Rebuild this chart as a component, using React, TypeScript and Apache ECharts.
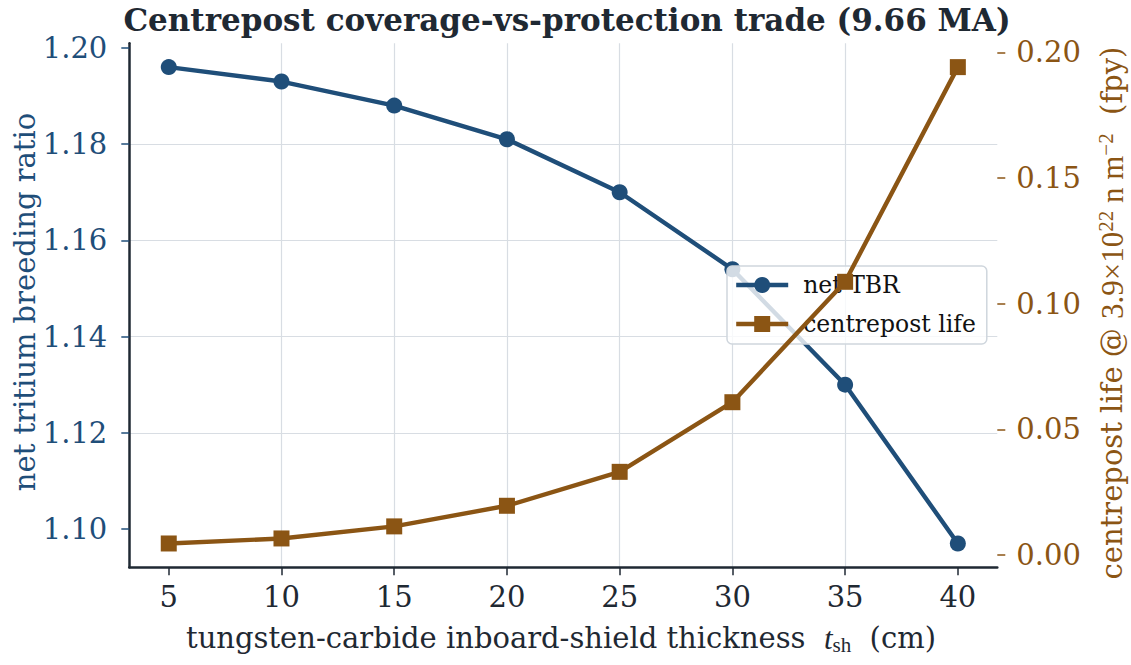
import React, { useEffect, useRef } from "react";
import * as echarts from "echarts";

const thickness = [5, 10, 15, 20, 25, 30, 35, 40];
const netTBR = [1.196, 1.193, 1.188, 1.181, 1.17, 1.154, 1.13, 1.097];
const centrepostLife = [0.0046, 0.0066, 0.0114, 0.0196, 0.0331, 0.0608, 0.1087, 0.1941];
const xTicks = [5, 10, 15, 20, 25, 30, 35, 40];
const leftTicks = [1.1, 1.12, 1.14, 1.16, 1.18, 1.2];
const rightTicks = [0, 0.05, 0.1, 0.15, 0.2];

const BLUE = "#1f4e79";
const BROWN = "#8b5514";
const DARK = "#1f2933";
const GRID = "#d8dde3";
const FONT = "DejaVu Serif";
const MATH = "Liberation Serif";

function padded(vals: number[]) {
  const lo = Math.min(...vals);
  const hi = Math.max(...vals);
  const p = (hi - lo) * 0.05;
  return [lo - p, hi + p];
}

export default function App() {
  const ref = useRef<HTMLDivElement>(null);
  useEffect(() => {
    if (!ref.current) return;
    const chart = echarts.init(ref.current, undefined, { renderer: "svg" });
    const [xmin, xmax] = padded(thickness);
    const [lmin, lmax] = padded(netTBR);
    const [rmin, rmax] = padded(centrepostLife);
    chart.setOption({
      animation: false,
      backgroundColor: "#ffffff",
      title: {
        text: "Centrepost coverage-vs-protection trade (9.66 MA)",
        left: 564,
        textAlign: "center",
        top: 1,
        padding: 3,
        textStyle: { fontFamily: FONT, fontSize: 31, fontWeight: "bold", color: DARK },
      },
      grid: { left: 129.3, right: 133.7, top: 43.3, bottom: 97.7, containLabel: false },
      legend: {
        data: ["net TBR", "centrepost life"],
        orient: "vertical",
        left: 727,
        top: 266,
        z: 3,
        backgroundColor: "rgba(255,255,255,0.8)",
        borderColor: "#cfd6dd",
        borderWidth: 1.5,
        borderRadius: 5,
        padding: [6, 11, 7, 7],
        itemWidth: 52,
        itemHeight: 20,
        itemGap: 13,
        lineStyle: { width: 4.4 },
        textStyle: { fontFamily: FONT, fontSize: 23.5, color: "#111111", lineHeight: 26, padding: [0, 0, 0, 10] },
      },
      xAxis: {
        type: "value",
        min: xmin,
        max: xmax,
        splitNumber: 8,
        axisLine: { show: true, onZero: false, lineStyle: { color: DARK, width: 2.5 } },
        axisTick: { show: true, length: 8, lineStyle: { color: DARK, width: 1.5 }, customValues: xTicks },
        axisLabel: {
          customValues: xTicks,
          fontFamily: FONT,
          fontSize: 29,
          color: DARK,
          margin: 15,
          formatter: (v: number) => String(Math.round(v)),
        },
        splitLine: { show: true, showMinLine: false, showMaxLine: false, lineStyle: { color: GRID, width: 1.2 } },
      },
      yAxis: [
        {
          type: "value",
          position: "left",
          min: lmin,
          max: lmax,
          axisLine: { show: true, onZero: false, lineStyle: { color: DARK, width: 2.5 } },
          axisTick: { show: true, length: 8, lineStyle: { color: BLUE, width: 1.5 }, customValues: leftTicks },
          axisLabel: {
            customValues: leftTicks,
            fontFamily: FONT,
            fontSize: 29,
            color: BLUE,
            margin: 22,
            formatter: (v: number) => v.toFixed(2),
          },
          splitLine: { show: true, showMinLine: false, showMaxLine: false, lineStyle: { color: GRID, width: 1.2 } },
        },
        {
          type: "value",
          position: "right",
          min: rmin,
          max: rmax,
          axisLine: { show: false, onZero: false },
          axisTick: { show: true, length: 8, lineStyle: { color: BROWN, width: 1.5 }, customValues: rightTicks },
          axisLabel: {
            customValues: rightTicks,
            fontFamily: FONT,
            fontSize: 29,
            color: BROWN,
            margin: 19,
            formatter: (v: number) => v.toFixed(2),
          },
          splitLine: { show: false },
        },
      ],
      series: [
        {
          name: "net TBR",
          type: "line",
          yAxisIndex: 0,
          z: 2,
          data: thickness.map((x, i) => [x, netTBR[i]]),
          symbol: "circle",
          symbolSize: 16,
          lineStyle: { color: BLUE, width: 4.4 },
          itemStyle: { color: BLUE },
        },
        {
          name: "centrepost life",
          type: "line",
          yAxisIndex: 1,
          z: 4,
          data: thickness.map((x, i) => [x, centrepostLife[i]]),
          symbol: "rect",
          symbolSize: 16,
          lineStyle: { color: BROWN, width: 4.4 },
          itemStyle: { color: BROWN },
        },
      ],
      graphic: [
        {
          type: "text",
          x: 25,
          y: 302,
          rotation: Math.PI / 2,
          style: {
            text: "net tritium breeding ratio",
            fontFamily: FONT,
            fontSize: 29,
            fill: BLUE,
            align: "center",
            verticalAlign: "middle",
          },
        },
        {
          type: "text",
          x: 1112,
          y: 313,
          rotation: Math.PI / 2,
          style: {
            text: "{a|centrepost life @ }{m|3.9×10}{sup|22}{m| n m}{sup|−2}{a|  (fpy)}",
            fill: BROWN,
            align: "center",
            verticalAlign: "middle",
            rich: {
              a: { fontFamily: FONT, fontSize: 29, lineHeight: 34, fill: BROWN },
              m: { fontFamily: MATH, fontSize: 31, lineHeight: 34, fill: BROWN },
              sup: { fontFamily: MATH, fontSize: 21, lineHeight: 17, verticalAlign: "top", fill: BROWN },
            },
          },
        },
        {
          type: "text",
          x: 561,
          y: 638,
          style: {
            text: "{a|tungsten-carbide inboard-shield thickness  }{it|t}{sub|sh}{a|  (cm)}",
            fill: DARK,
            align: "center",
            verticalAlign: "middle",
            rich: {
              a: { fontFamily: FONT, fontSize: 29, lineHeight: 34, fill: DARK },
              it: { fontFamily: MATH, fontSize: 31, lineHeight: 34, fontStyle: "italic", fill: DARK },
              sub: { fontFamily: MATH, fontSize: 21, lineHeight: 17, verticalAlign: "bottom", fill: DARK },
            },
          },
        },
      ],
    });
    return () => chart.dispose();
  }, []);
  return (
    <div
      ref={ref}
      style={{ position: "fixed", left: 0, top: 0, width: 1131, height: 665, background: "#fff" }}
    />
  );
}
